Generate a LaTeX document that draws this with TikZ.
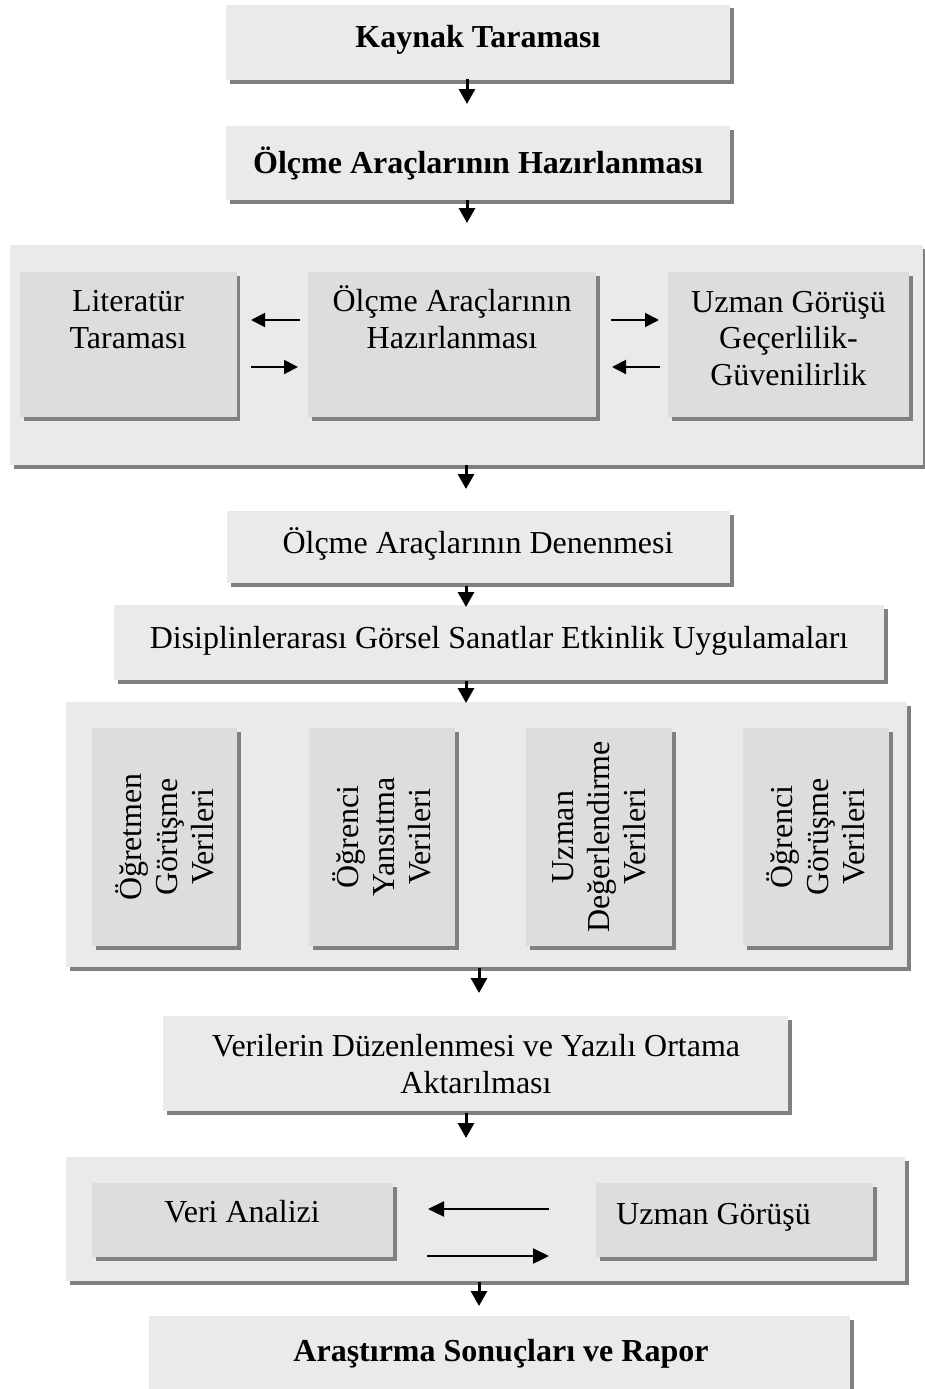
\documentclass[tikz,border=0pt]{standalone}
\usepackage{fontspec}
\setmainfont{Liberation Serif}
\usetikzlibrary{arrows.meta,shadows}
\definecolor{outerc}{RGB}{234,234,234}
\definecolor{innerc}{RGB}{221,221,221}
\definecolor{shadowc}{RGB}{128,128,128}
\tikzset{
  shbox/.style={inner sep=0pt, outer sep=0pt, draw=none,
    drop shadow={shadow xshift=3.5pt, shadow yshift=-3.5pt, fill=shadowc, opacity=1}},
  obox/.style={shbox, fill=outerc},
  ibox/.style={shbox, fill=innerc},
  txt/.style={font=\fontsize{32}{36.5}\selectfont, align=center, inner sep=0pt, anchor=base},
  btxt/.style={txt, font=\bfseries\fontsize{32}{36.5}\selectfont},
  rtxt/.style={font=\fontsize{32}{36}\selectfont, align=center, rotate=90, inner sep=0pt},
  varrow/.style={line width=3pt, -{Triangle[length=15pt,width=16pt]}},
  harrow/.style={line width=2pt, -{Triangle[length=14pt,width=14pt]}},
  harrowb/.style={line width=2.3pt, -{Triangle[length=16pt,width=15pt]}},
}
\newcommand{\mybox}[6]{% style, name, x1, y1, x2, y2
  \node[#1, minimum width={(#5)-(#3)}, minimum height={(#6)-(#4)}] (#2) at ({((#3)+(#5))/2},{((#4)+(#6))/2}) {};}
\begin{document}
\begin{tikzpicture}[x=1pt,y=-1pt]
\useasboundingbox[fill=white] (0,0) rectangle (925,1389);

% top boxes
\mybox{obox}{b1}{226}{5}{730}{80}
\node[btxt] (t1) at (478,48) {Kaynak Taraması};
\mybox{obox}{b2}{226}{126}{730}{200}
\node[btxt] (t2) at (478,173) {Ölçme Araçlarının Hazırlanması};

% group 3
\mybox{obox}{g3}{10}{245}{923}{465}
\mybox{ibox}{g3a}{20}{272}{236.5}{417}
\mybox{ibox}{g3b}{308}{272}{596}{417}
\mybox{ibox}{g3c}{668}{272}{909}{417}
\node[txt] (t3a) at (128,348) {Literatür\\Taraması};
\node[txt] (t3b) at (452,348) {Ölçme Araçlarının\\Hazırlanması};
\node[txt] (t3c) at (788.5,385) {Uzman Görüşü\\Geçerlilik-\\Güvenilirlik};

% boxes 4,5
\mybox{obox}{b4}{227}{511}{730}{583}
\node[txt] (t4) at (478,553) {Ölçme Araçlarının Denenmesi};
\mybox{obox}{b5}{114}{605}{884}{680}
\node[txt] (t5) at (499,648) {Disiplinlerarası Görsel Sanatlar Etkinlik Uygulamaları};

% group 6
\mybox{obox}{g6}{66}{702}{907}{967}
\mybox{ibox}{g6a}{92}{728}{237}{946}
\mybox{ibox}{g6b}{309}{728}{455}{946}
\mybox{ibox}{g6c}{526}{728}{672}{946}
\mybox{ibox}{g6d}{743}{728}{889}{946}
\node[rtxt] (t6a) at (g6a.center) {Öğretmen\\Görüşme\\Verileri};
\node[rtxt] (t6b) at (g6b.center) {Öğrenci\\Yansıtma\\Verileri};
\node[rtxt] (t6c) at (g6c.center) {Uzman\\Değerlendirme\\Verileri};
\node[rtxt] (t6d) at (g6d.center) {Öğrenci\\Görüşme\\Verileri};

% box 7
\mybox{obox}{b7}{163}{1016}{788}{1111}
\node[txt] (t7) at (476,1093) {Verilerin Düzenlenmesi ve Yazılı Ortama\\Aktarılması};

% group 8
\mybox{obox}{g8}{66}{1157}{905}{1281}
\mybox{ibox}{g8a}{92}{1183}{393}{1257}
\mybox{ibox}{g8b}{596}{1183}{873}{1257}
\node[txt] (t8a) at (242,1222) {Veri Analizi};
\node[txt] (t8b) at (713.5,1224) {Uzman Görüşü};

% box 9
\mybox{obox}{b9}{149}{1316}{850}{1400}
\node[btxt] (t9) at (501,1361) {Araştırma Sonuçları ve Rapor};

% vertical arrow coordinates
\coordinate (a1s) at (467,79);   \coordinate (a1e) at (467,104);
\coordinate (a2s) at (467,200);  \coordinate (a2e) at (467,223);
\coordinate (a3s) at (466,465);  \coordinate (a3e) at (466,489);
\coordinate (a4s) at (466,586);  \coordinate (a4e) at (466,607);
\coordinate (a5s) at (466,681);  \coordinate (a5e) at (466,703);
\coordinate (a6s) at (479,968);  \coordinate (a6e) at (479,993);
\coordinate (a7s) at (466,1113); \coordinate (a7e) at (466,1138);
\coordinate (a8s) at (479,1282); \coordinate (a8e) at (479,1306);
\foreach \i in {1,...,8} \draw[varrow] (a\i s) -- (a\i e);

% horizontal arrows group 3
\coordinate (h1s) at (300,320); \coordinate (h1e) at (251,320);
\coordinate (h2s) at (251,367); \coordinate (h2e) at (298,367);
\coordinate (h3s) at (611,320); \coordinate (h3e) at (659,320);
\coordinate (h4s) at (660,367); \coordinate (h4e) at (612,367);
\foreach \i in {1,...,4} \draw[harrow] (h\i s) -- (h\i e);

% horizontal arrows group 8
\coordinate (k1s) at (549,1209); \coordinate (k1e) at (428,1209);
\coordinate (k2s) at (427,1256); \coordinate (k2e) at (549,1256);
\foreach \i in {1,2} \draw[harrowb] (k\i s) -- (k\i e);
\end{tikzpicture}
\end{document}
